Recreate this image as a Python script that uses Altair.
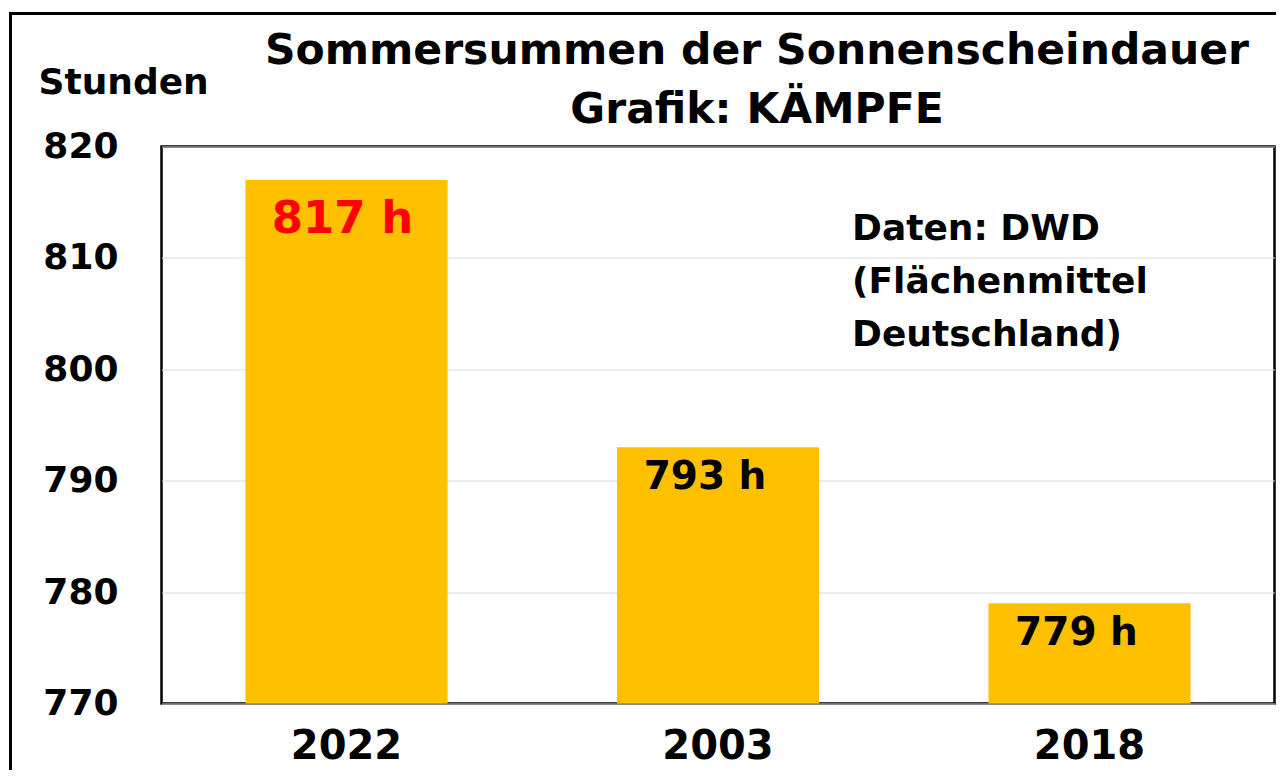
import altair as alt
import pandas as pd

YEARS = ["2022", "2003", "2018"]
HOURS = [817, 793, 779]
LABELS = ["817 h", "793 h", "779 h"]
Y_TICKS = [770, 780, 790, 800, 810, 820]
Y_MIN, Y_MAX = 770, 820
TITLE_LINES = ["Sommersummen der Sonnenscheindauer", "Grafik: KÄMPFE"]
NOTE_LINES = ["Daten: DWD", "(Flächenmittel", "Deutschland)"]
Y_TITLE = "Stunden"
HIGHLIGHT = "2022"

FONT = "DejaVu Sans"
W, H = 1113, 557

df = pd.DataFrame({"year": YEARS, "hours": HOURS, "label": LABELS})
one = pd.DataFrame({"k": [0]})

x_main = alt.X(
    "year:N", sort=YEARS,
    scale=alt.Scale(paddingInner=0.456, paddingOuter=0.226),
    axis=alt.Axis(title=None, labelAngle=0, ticks=False, domain=False,
                  labelFont=FONT, labelFontSize=40, labelFontWeight="bold",
                  labelColor="black", labelPadding=23),
)
y_main = alt.Y(
    "hours:Q",
    scale=alt.Scale(domain=[Y_MIN, Y_MAX], nice=False, zero=False),
    axis=alt.Axis(values=Y_TICKS, format="d", title=Y_TITLE, titleAngle=0,
                  titleAlign="left", titleBaseline="alphabetic",
                  titleX=-123.5, titleY=-53.5, titleFont=FONT, titleFontSize=36,
                  titleFontWeight="bold", titleColor="black",
                  labelFont=FONT, labelFontSize=36, labelFontWeight="bold",
                  labelColor="black", labelPadding=43.5, labelBaseline="middle",
                  labelFlush=False, labelOverlap=False,
                  ticks=False, domain=False, grid=True,
                  gridColor="#d9d9d9", gridWidth=1),
)

bars = alt.Chart(df).mark_bar(color="#FFC000").encode(
    x=x_main, y=y_main, y2=alt.datum(Y_MIN)
)

x_s = alt.X("year:N", sort=YEARS)
y_s = alt.Y("hours:Q")

lab_hi = alt.Chart(df).transform_filter(alt.datum.year == HIGHLIGHT).mark_text(
    font=FONT, fontWeight="bold", fontSize=45, color="#FF0000",
    baseline="alphabetic", align="center", dy=53, dx=-4
).encode(x=x_s, y=y_s, text="label:N")

lab_rest = alt.Chart(df).transform_filter(alt.datum.year != HIGHLIGHT).mark_text(
    font=FONT, fontWeight="bold", fontSize=39, color="black",
    baseline="alphabetic", align="center", dy=42, dx=-13
).encode(x=x_s, y=y_s, text="label:N")

title = alt.Chart(one).mark_text(
    font=FONT, fontWeight="bold", fontSize=42.5, color="black",
    align="center", baseline="alphabetic", lineHeight=59
).encode(x=alt.value(595.5), y=alt.value(-83), text=alt.value(TITLE_LINES))

note = alt.Chart(one).mark_text(
    font=FONT, fontWeight="bold", fontSize=36, color="black",
    align="left", baseline="alphabetic", lineHeight=53
).encode(x=alt.value(690.5), y=alt.value(93.5), text=alt.value(NOTE_LINES))

frame_top = alt.Chart(one).mark_rule(color="black", strokeWidth=3).encode(
    x=alt.value(-152.5), x2=alt.value(1130), y=alt.value(-133)
)
frame_left = alt.Chart(one).mark_rule(color="black", strokeWidth=3).encode(
    x=alt.value(-151), y=alt.value(-134.5), y2=alt.value(640)
)

chart = alt.layer(bars, lab_hi, lab_rest, title, note, frame_top, frame_left).properties(
    width=W, height=H,
    padding={"left": 153.5, "top": 138.5, "right": 1.5, "bottom": 66.5},
    autosize=alt.AutoSizeParams(type="none"),
    background="white",
).configure_view(stroke="black", strokeWidth=2.5)

chart.save("out.html", embed_options={"renderer": "svg", "actions": False})
